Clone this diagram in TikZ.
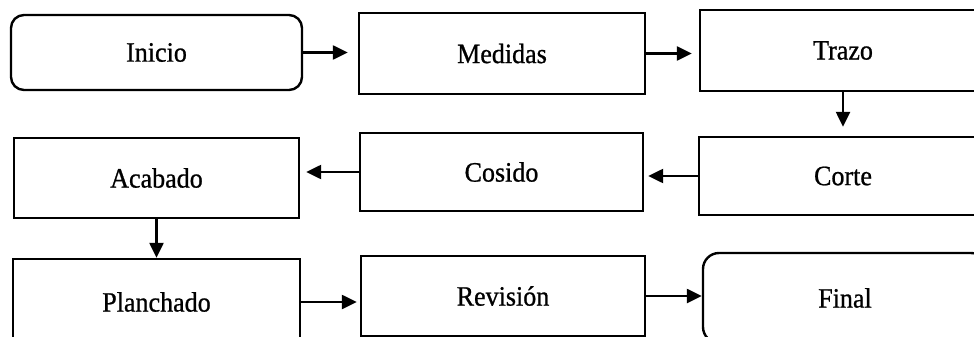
\documentclass[tikz,border=0pt]{standalone}
\usepackage{fontspec}
\setmainfont[FakeStretch=0.93,FakeBold=0.8]{Liberation Serif}
\usetikzlibrary{arrows.meta}
\begin{document}
\begin{tikzpicture}[x=1pt,y=-1pt,
  box/.style={draw=black,line width=2.4pt,inner sep=0pt,
    font=\fontsize{28}{32}\selectfont},
  rbox/.style={box,rounded corners=13pt},
  arr/.style={line width=2.4pt,-{Triangle[length=15pt,width=14pt]}}]
\useasboundingbox (0,0) rectangle (974,337);
\clip (0,0) rectangle (974,337);
\fill[white] (0,0) rectangle (974,337);
\node[rbox,minimum width=291pt,minimum height=75pt] (inicio) at (156.5,52.5) {Inicio};
\node[box,minimum width=286pt,minimum height=81pt] (medidas) at (502,53.5) {Medidas};
\node[box,minimum width=286pt,minimum height=81pt] (trazo) at (843,50.5) {Trazo};
\node[box,minimum width=285pt,minimum height=80pt] (acabado) at (156.5,178) {Acabado};
\node[box,minimum width=283pt,minimum height=78pt] (cosido) at (501.5,172) {Cosido};
\node[box,minimum width=288pt,minimum height=78pt] (corte) at (843,176) {Corte};
\node[box,minimum width=287pt,minimum height=86pt] (planchado) at (156.5,302) {Planchado};
\node[box,minimum width=284pt,minimum height=80pt] (revision) at (503,296) {Revisión};
\node[rbox,minimum width=284pt,minimum height=90pt,rounded corners=16pt] (final) at (845,298) {Final};
\draw[arr,shorten >=10pt] (inicio.east) -- (inicio.east -| medidas.west);
\draw[arr,shorten >=7pt] (medidas.east) -- (medidas.east -| trazo.west);
\draw[arr,shorten >=9pt] (trazo.south) -- (corte.north);
\draw[arr,shorten >=4pt] (corte.west) -- (corte.west -| cosido.east);
\draw[arr,shorten >=6pt] (cosido.west) -- (cosido.west -| acabado.east);
\draw[arr] (acabado.south) -- (planchado.north);
\draw[arr,shorten >=3pt] (planchado.east) -- (planchado.east -| revision.west);
\draw[arr] (revision.east) -- (revision.east -| final.west);
\end{tikzpicture}
\end{document}
